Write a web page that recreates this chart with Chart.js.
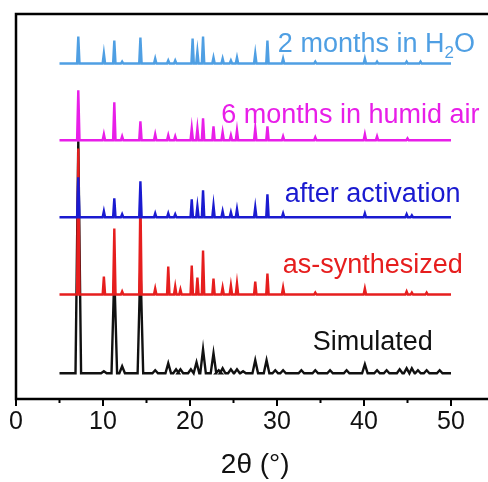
<!DOCTYPE html>
<html>
<head>
<meta charset="utf-8">
<script src="https://cdn.jsdelivr.net/npm/chart.js@4"></script>
<style>
  html, body { margin: 0; padding: 0; background: #fff; overflow: hidden; }
  #wrap { position: absolute; left: 0; top: 0; width: 488px; height: 482px; overflow: hidden; }
  #xrd { display: block; }
</style>
</head>
<body>
<div id="wrap"><canvas id="xrd" width="500" height="482"></canvas></div>
<script>
// peak lists: [2θ, intensity above the trace's own baseline]
const h2oPeaks = [[7.16, 27], [10.1, 10], [11.3, 23], [12.2, 2], [14.3, 26], [16.0, 5],
  [17.5, 3], [18.3, 3], [20.3, 25], [20.85, 12], [21.5, 27], [22.7, 6], [23.75, 5],
  [24.7, 3], [25.4, 6], [27.5, 10], [28.9, 23], [30.7, 5], [34.4, 2], [40.1, 5],
  [41.5, 2], [44.9, 2], [46.5, 2]];
const humidPeaks = [[7.16, 50], [10.1, 6], [11.3, 38], [12.2, 4], [14.3, 19], [16.0, 6],
  [17.5, 5], [18.3, 4], [20.2, 12], [20.85, 12], [21.5, 22], [22.7, 14], [23.75, 8],
  [24.7, 5], [25.4, 10], [27.5, 12], [28.9, 14], [30.7, 4], [34.4, 3], [40.1, 6],
  [41.5, 4], [45.0, 2]];
const activatedPeaks = [[7.16, 40], [10.1, 6], [11.3, 19], [12.2, 3], [14.3, 36], [16.0, 4],
  [17.5, 4], [18.3, 3], [20.2, 18], [20.85, 11], [21.5, 27], [22.7, 12], [23.75, 6],
  [24.7, 5], [25.4, 8], [27.5, 10], [28.9, 23], [30.7, 4], [40.1, 4], [44.9, 3], [45.5, 2]];
const synthPeaks = [[7.16, 146], [10.1, 18], [11.3, 66], [12.2, 3], [14.3, 100], [16.0, 6],
  [17.5, 28], [18.3, 8], [18.9, 5], [20.2, 29], [20.85, 17], [21.5, 44], [22.7, 16],
  [23.75, 7], [24.7, 9], [25.4, 11], [27.5, 13], [28.9, 21], [30.7, 7], [34.4, 2],
  [40.1, 6], [44.9, 3], [45.5, 2], [47.2, 2]];
const simPeaks = [[7.16, 232], [10.1, 2], [11.3, 100], [12.2, 7], [14.3, 110], [16.0, 3],
  [17.5, 10], [18.4, 4], [18.9, 4], [20.1, 4], [20.75, 11], [21.5, 24], [22.7, 20],
  [23.3, 3], [23.75, 5], [24.7, 4], [25.4, 4], [26.1, 2], [27.5, 13], [28.8, 13],
  [29.8, 3], [30.7, 3], [32.8, 3], [34.4, 3], [36.1, 3], [38.0, 3], [40.1, 9],
  [41.5, 3], [42.6, 3], [44.1, 4], [44.9, 5], [45.5, 5], [46.2, 3], [47.2, 3], [48.7, 3]];

const seriesNames = ["2 months in H2O", "6 months in humid air", "after activation", "as-synthesized", "Simulated"];
const xTicks = [0, 10, 20, 30, 40, 50];
const scanRange = [5, 50];

// vertical stacking of the traces (baselines) and look
const offsets = [335.5, 258.7, 181.7, 104.5, 25.7];
const colors = ["#4f9fe3", "#e81ee8", "#1a1ad0", "#e61e1e", "#111111"];
const halfWidths = [0.14, 0.14, 0.14, 0.14, 0.32];

function trace(peaks, off, w) {
  const pts = [{ x: scanRange[0], y: off }];
  peaks.forEach(p => {
    pts.push({ x: p[0] - w, y: off });
    pts.push({ x: p[0], y: off + p[1] });
    pts.push({ x: p[0] + w, y: off });
  });
  pts.push({ x: scanRange[1], y: off });
  return pts;
}

const allPeaks = [h2oPeaks, humidPeaks, activatedPeaks, synthPeaks, simPeaks];
// first dataset is painted last (on top)
const datasets = allPeaks.map((pk, i) => ({
  label: seriesNames[i],
  data: trace(pk, offsets[i], halfWidths[i]),
  borderColor: colors[i],
  borderWidth: 2.4,
  pointRadius: 0,
  tension: 0,
  fill: false
}));

// text labels next to the traces: [x in 2θ, pixel baseline]
const labelSpots = [[30.1, 52], [23.6, 123.3], [30.9, 201.7], [30.65, 273.3], [34.1, 350]];

const framePlugin = {
  id: "frame",
  afterDraw(c) {
    const ctx = c.ctx, a = c.chartArea, xs = c.scales.x;
    ctx.save();
    ctx.strokeStyle = "#000";
    ctx.lineWidth = 2.5;
    ctx.beginPath();
    ctx.moveTo(a.right + 10, a.bottom);
    ctx.lineTo(a.left, a.bottom);
    ctx.lineTo(a.left, a.top);
    ctx.lineTo(a.right + 10, a.top);
    ctx.stroke();
    ctx.lineWidth = 2;
    for (let v = 0; v <= 50; v += 5) {
      const px = xs.getPixelForValue(v);
      ctx.beginPath();
      ctx.moveTo(px, a.bottom);
      ctx.lineTo(px, a.bottom + (v % 10 === 0 ? 7 : 4));
      ctx.stroke();
    }
    ctx.font = "27px 'Liberation Sans', Arial, sans-serif";
    ctx.textBaseline = "alphabetic";
    ctx.textAlign = "left";
    labelSpots.forEach((s, i) => {
      const px = xs.getPixelForValue(s[0]);
      ctx.fillStyle = colors[i];
      if (i === 0) {
        let t = "2 months in H";
        ctx.fillText(t, px, s[1]);
        let w = ctx.measureText(t).width;
        ctx.font = "17px 'Liberation Sans', Arial, sans-serif";
        ctx.fillText("2", px + w, s[1] + 6);
        w += ctx.measureText("2").width;
        ctx.font = "27px 'Liberation Sans', Arial, sans-serif";
        ctx.fillText("O", px + w, s[1]);
      } else {
        ctx.fillText(seriesNames[i], px, s[1]);
      }
    });
    ctx.restore();
  }
};

new Chart(document.getElementById("xrd"), {
  type: "line",
  data: { datasets: datasets },
  options: {
    responsive: false,
    devicePixelRatio: 1,
    animation: false,
    layout: { padding: { left: 16, top: 14, right: 5.5, bottom: 0 } },
    plugins: { legend: { display: false }, tooltip: { enabled: false } },
    scales: {
      x: {
        type: "linear",
        min: 0,
        max: 55,
        grid: { display: false, drawTicks: false },
        border: { display: false },
        afterBuildTicks: s => { s.ticks = xTicks.map(v => ({ value: v })); },
        afterFit: s => { s.height = 83; },
        ticks: {
          autoSkip: false,
          maxRotation: 0,
          padding: 8,
          color: "#111",
          font: { family: "'Liberation Sans', Arial, sans-serif", size: 25 }
        },
        title: {
          display: true,
          text: "2θ (°)",
          color: "#111",
          padding: { top: 0, bottom: 0 },
          font: { family: "'Liberation Sans', Arial, sans-serif", size: 28 }
        }
      },
      y: { display: false, min: 0, max: 385 }
    }
  },
  plugins: [framePlugin]
});
</script>
</body>
</html>
